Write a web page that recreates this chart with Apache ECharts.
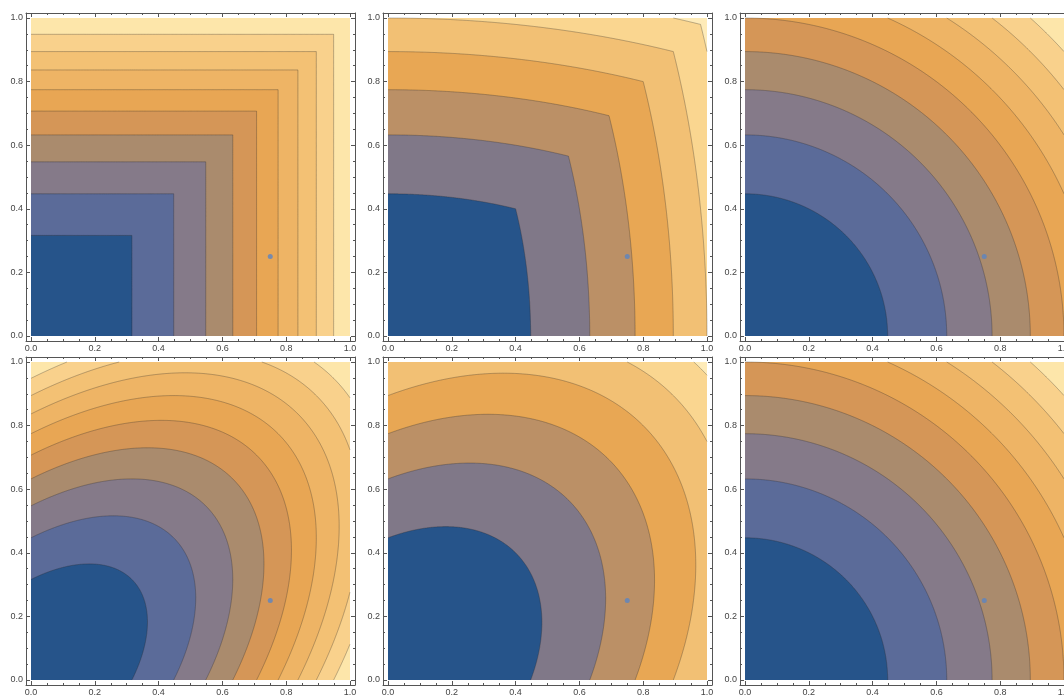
<!DOCTYPE html>
<html><head><meta charset="utf-8">
<script src="https://cdn.jsdelivr.net/npm/echarts@6/dist/echarts.min.js"></script>
<style>html,body{margin:0;padding:0;background:#fff}#c{width:1064px;height:696px}</style>
</head><body><div id="c"></div>
<script>
// ---- data ----
const tickValues = [0, 0.2, 0.4, 0.6, 0.8, 1.0];
const minorTickValues = [0.05,0.1,0.15,0.25,0.3,0.35,0.45,0.5,0.55,0.65,0.7,0.75,0.85,0.9,0.95];
const markedPoint = [0.75, 0.25];
// contour form of each panel: f(x,y) homogeneous of degree 2
// 'max'  : max(x,y)^2 + coef*min(x,y)^2
// 'quad' : x^2 + y^2 - coef*x*y
const panelForm = ['max', 'max', 'quad', 'quad', 'quad', 'quad'];
const panelCoef = [0, 0.25, 0, 1, 0.75, 0];
const levelsTenths = [0.1, 0.2, 0.3, 0.4, 0.5, 0.6, 0.7, 0.8, 0.9];
const levelsFifthsShort = [0.2, 0.4, 0.6, 0.8, 1.0, 1.2];
const levelsFifthsLong = [0.2, 0.4, 0.6, 0.8, 1.0, 1.2, 1.4, 1.6, 1.8];
const panelLevels = [levelsTenths, levelsFifthsShort, levelsFifthsLong, levelsTenths, levelsFifthsShort, levelsFifthsLong];
const bandColorsTen = ['#26548A','#5B6B99','#857A89','#AA8B6D','#D59657','#E8A654','#EEB465','#F3C174','#F9D18C','#FDE6AA'];
const bandColorsSeven = ['#26548A','#807888','#BB9066','#E8A754','#F2C074','#FAD690','#FEEBB8'];
const panelColors = [bandColorsTen, bandColorsSeven, bandColorsTen, bandColorsTen, bandColorsSeven, bandColorsTen];

// ---- layout ----
const colLeft = [26, 383, 740];
const rowTop = [13, 357];
const frameW = 329, frameH = 328;
const padX = 5 / 319, padY = 5 / 318;

function unitValue(p, c, s) {
  const k = panelCoef[p];
  if (panelForm[p] === 'max') {
    const hi = Math.max(c, s), lo = Math.min(c, s);
    return hi * hi + k * lo * lo;
  }
  return 1 - k * c * s;
}

function makeRender(p) {
  return function (params, api) {
    const k = api.value(2);
    const levels = panelLevels[p];
    const cols = panelColors[p];
    if (k >= levels.length) {
      const pts = [[0,0],[1,0],[1,1],[0,1]].map(d => api.coord(d));
      return {type: 'polygon', shape: {points: pts}, style: {fill: cols[k]}};
    }
    const L = levels[k];
    const N = 720;
    const rad = t => Math.sqrt(L / unitValue(p, Math.cos(t), Math.sin(t)));
    const rbox = t => 1 / Math.max(Math.cos(t), Math.sin(t));
    const toPt = (t, r) => api.coord([r * Math.cos(t), r * Math.sin(t)]);
    const poly = [api.coord([0, 0])];
    const segs = [];
    let cur = null;
    let prevT = 0, prevIn = rad(0) <= rbox(0);
    for (let i = 0; i <= N; i++) {
      const t = (Math.PI / 2) * i / N;
      const r = rad(t), rb = rbox(t);
      const inside = r <= rb;
      if (i > 0 && inside !== prevIn) {
        let a = prevT, b = t;
        for (let j = 0; j < 40; j++) {
          const m = (a + b) / 2;
          const mi = rad(m) <= rbox(m);
          if (mi === prevIn) a = m; else b = m;
        }
        const tc = (a + b) / 2;
        const pc = toPt(tc, rbox(tc));
        poly.push(pc);
        if (prevIn) { cur.push(pc); cur = null; }
        else { cur = [pc]; segs.push(cur); }
      }
      const pt = toPt(t, Math.min(r, rb));
      poly.push(pt);
      if (inside) { if (!cur) { cur = []; segs.push(cur); } cur.push(pt); }
      prevT = t; prevIn = inside;
    }
    const children = [{type: 'polygon', shape: {points: poly}, style: {fill: cols[k]}}];
    segs.forEach(sg => {
      if (sg.length > 1) children.push({type: 'polyline', shape: {points: sg},
        style: {stroke: 'rgba(40,40,40,0.45)', lineWidth: 0.7, fill: null}});
    });
    return {type: 'group', children: children};
  };
}

const grids = [], xAxes = [], yAxes = [], series = [];
const labelStyle = {fontSize: 9, color: '#444', fontFamily: 'Liberation Sans, Arial, sans-serif'};
const lineStyle = {color: '#555', width: 1};
for (let p = 0; p < 6; p++) {
  const col = p % 3, row = Math.floor(p / 3);
  grids.push({left: colLeft[col], top: rowTop[row], width: frameW, height: frameH,
    containLabel: false, outerBoundsMode: 'none'});
  const xBase = {type: 'value', gridIndex: p, min: -padX, max: 1 + padX, splitLine: {show: false}};
  const yBase = {type: 'value', gridIndex: p, min: -padY, max: 1 + padY, splitLine: {show: false}};
  const mk = (base, pos, major, labels) => Object.assign({}, base, {
    position: pos,
    axisLine: {show: major, onZero: false, lineStyle: lineStyle},
    axisTick: {show: true, inside: true, length: major ? 4 : 2,
      customValues: major ? tickValues : minorTickValues, lineStyle: {color: '#555', width: 1}},
    axisLabel: labels ? Object.assign({show: true, customValues: tickValues, margin: 3,
      hideOverlap: false, formatter: v => v.toFixed(1)}, labelStyle) : {show: false}
  });
  xAxes.push(mk(xBase, 'bottom', true, true), mk(xBase, 'bottom', false, false),
             mk(xBase, 'top', true, false), mk(xBase, 'top', false, false));
  yAxes.push(mk(yBase, 'left', true, true), mk(yBase, 'left', false, false),
             mk(yBase, 'right', true, false), mk(yBase, 'right', false, false));
  const n = panelLevels[p].length;
  const items = [];
  for (let k = n; k >= 0; k--) items.push([0.5, 0.5, k]);
  series.push({type: 'custom', xAxisIndex: 4 * p, yAxisIndex: 4 * p, renderItem: makeRender(p),
    data: items, silent: true, animation: false});
  series.push({type: 'scatter', xAxisIndex: 4 * p, yAxisIndex: 4 * p, data: [markedPoint],
    symbolSize: 5, itemStyle: {color: '#5B84C2'}, silent: true, animation: false, z: 5});
}

const chart = echarts.init(document.getElementById('c'), null, {renderer: 'canvas'});
chart.setOption({animation: false, grid: grids, xAxis: xAxes, yAxis: yAxes, series: series});
</script></body></html>
